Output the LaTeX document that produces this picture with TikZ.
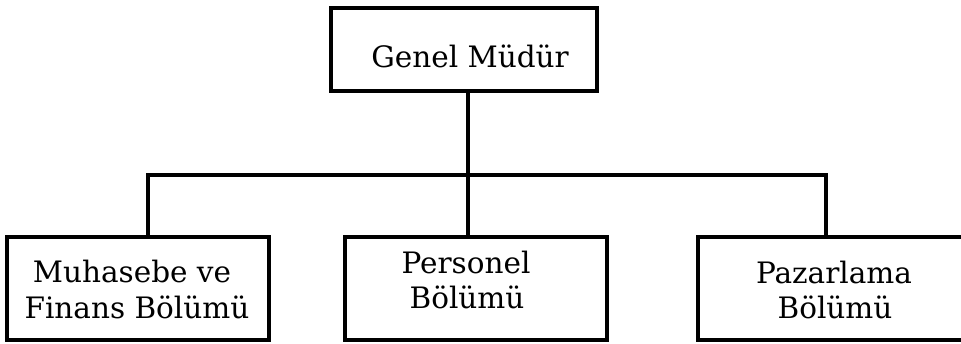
\documentclass[tikz,border=0pt]{standalone}
\usepackage{fontspec}
\setmainfont{DejaVu Serif}
\begin{document}
\begin{tikzpicture}[x=1pt,y=-1pt,
  box/.style={draw=black,line width=3.2pt,rectangle,inner sep=0pt},
  lbl/.style={anchor=base,inner sep=0pt,font=\fontsize{29.5}{36}\selectfont},
  conn/.style={draw=black,line width=3.2pt}]
\useasboundingbox (0,0) rectangle (961,344);
\clip (0,0) rectangle (961,344);
% boxes
\node[box,minimum width=266pt,minimum height=83pt] (gm) at (464,49.5) {};
\node[box,minimum width=262pt,minimum height=103pt] (b1) at (138,288.5) {};
\node[box,minimum width=262pt,minimum height=103pt] (b2) at (476,288.5) {};
\node[box,minimum width=272pt,minimum height=103pt] (b3) at (834,288.5) {};
% texts
\node[lbl] (t0) at (470,68) {Genel Müdür};
\node[lbl] (t1a) at (132,283) {Muhasebe ve};
\node[lbl] (t1b) at (137,319) {Finans Bölümü};
\node[lbl] (t2a) at (466,274) {Personel};
\node[lbl] (t2b) at (467,309) {Bölümü};
\node[lbl] (t3a) at (834,284) {Pazarlama};
\node[lbl] (t3b) at (835,319) {Bölümü};
% connectors
\coordinate (l) at (148,175);
\coordinate (m) at (468,175);
\coordinate (r) at (826,175);
\draw[conn] (m |- gm.south) -- (m |- b2.north);
\draw[conn] (l |- b1.north) -- (l) -- (r) -- (r |- b3.north);
\end{tikzpicture}
\end{document}
